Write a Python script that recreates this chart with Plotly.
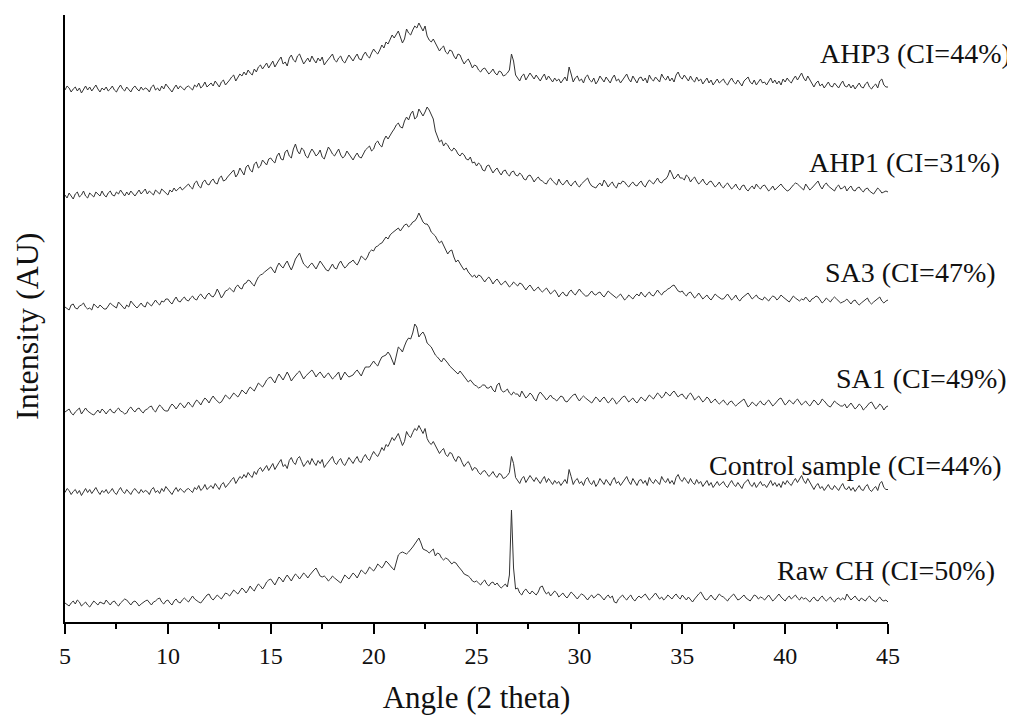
import plotly.graph_objects as go

# 2-theta grid: 5.0 .. 45.0 every 0.1 degree (401 points)
angle = [round(5 + 0.1 * i, 1) for i in range(401)]

# Intensities (AU); one row = 2 degrees (20 points)
ahp3 = [
    10, 14, 12, 8, 11, 13, 9, 12, 7, 11, 14, 10, 13, 9, 12, 15, 11, 8, 12, 10,
    13, 9, 11, 14, 10, 8, 12, 15, 11, 9, 13, 10, 8, 12, 14, 11, 9, 13, 10, 12,
    11, 8, 13, 15, 10, 12, 9, 14, 11, 16, 13, 10, 8, 12, 15, 11, 14, 12, 10, 13,
    14, 12, 10, 15, 13, 17, 12, 14, 18, 13, 15, 17, 14, 19, 16, 13, 18, 20, 15, 17,
    20, 23, 25, 19, 22, 26, 24, 28, 25, 30, 27, 25, 31, 28, 33, 35, 31, 34, 37, 32,
    36, 39, 33, 37, 40, 43, 36, 38, 34, 42, 45, 40, 38, 44, 46, 41, 36, 39, 42, 38,
    44, 40, 37, 42, 39, 43, 35, 38, 41, 44, 46, 40, 38, 42, 44, 39, 37, 41, 45, 42,
    39, 43, 46, 41, 40, 45, 48, 44, 42, 47, 51, 48, 46, 50, 55, 52, 58, 56, 61, 65,
    62, 66, 69, 63, 57, 61, 71, 67, 65, 70, 74, 72, 77, 73, 69, 74, 64, 60, 58, 61,
    57, 53, 49, 52, 54, 48, 46, 50, 49, 44, 41, 46, 45, 40, 36, 39, 41, 37, 32, 35,
    34, 30, 28, 31, 32, 29, 26, 28, 31, 27, 25, 29, 28, 24, 25, 27, 30, 46, 39, 25,
    22, 19, 24, 26, 20, 23, 27, 24, 21, 25, 22, 19, 23, 26, 20, 24, 21, 18, 22, 19,
    21, 17, 20, 23, 19, 33, 26, 18, 22, 24, 19, 21, 17, 23, 25, 20, 18, 22, 16, 19,
    24, 21, 18, 23, 20, 17, 22, 25, 19, 21, 17, 20, 23, 26, 21, 18, 24, 20, 17, 22,
    23, 19, 22, 17, 25, 21, 19, 23, 20, 18, 26, 22, 20, 24, 19, 22, 18, 25, 28, 23,
    21, 25, 22, 19, 24, 20, 18, 23, 19, 21, 16, 19, 22, 17, 20, 15, 18, 21, 17, 19,
    21, 17, 15, 19, 22, 18, 16, 20, 17, 14, 19, 21, 23, 18, 16, 20, 15, 18, 21, 17,
    18, 15, 19, 22, 17, 20, 16, 19, 15, 21, 18, 22, 19, 17, 21, 24, 20, 23, 27, 22,
    19, 24, 20, 16, 13, 17, 19, 14, 16, 12, 15, 18, 14, 13, 17, 15, 12, 16, 19, 14,
    13, 16, 12, 15, 11, 14, 17, 13, 12, 16, 18, 13, 11, 14, 16, 12, 19, 21, 15, 13,
    13,
]

ahp1 = [
    10, 7, 12, 9, 6, 11, 13, 8, 10, 14, 9, 7, 12, 10, 8, 13, 11, 9, 14, 10,
    8, 12, 14, 10, 9, 13, 11, 15, 12, 9, 13, 10, 14, 11, 9, 12, 15, 11, 13, 16,
    11, 14, 12, 10, 15, 13, 11, 16, 14, 12, 10, 15, 13, 17, 14, 16, 18, 15, 17, 19,
    21, 18, 16, 22, 24, 19, 17, 23, 25, 21, 20, 24, 26, 22, 21, 27, 29, 24, 25, 28,
    30, 33, 35, 28, 31, 37, 34, 30, 38, 40, 35, 33, 41, 43, 37, 39, 45, 42, 40, 46,
    47, 44, 42, 49, 52, 46, 45, 53, 55, 49, 47, 56, 61, 54, 51, 57, 55, 49, 47, 52,
    56, 53, 49, 51, 55, 48, 46, 52, 58, 55, 51, 49, 53, 56, 50, 47, 49, 54, 51, 48,
    45, 49, 52, 48, 47, 51, 55, 57, 59, 54, 56, 62, 64, 60, 58, 65, 69, 66, 70, 73,
    76, 80, 82, 78, 77, 84, 88, 85, 91, 94, 86, 88, 96, 92, 89, 93, 98, 95, 91, 86,
    74, 68, 63, 65, 59, 62, 60, 56, 54, 57, 55, 51, 49, 52, 50, 46, 45, 48, 42, 43,
    39, 42, 40, 35, 34, 39, 40, 36, 32, 35, 37, 33, 30, 34, 35, 31, 29, 33, 34, 30,
    29, 32, 30, 26, 25, 29, 30, 27, 23, 26, 28, 25, 24, 22, 21, 25, 27, 24, 22, 20,
    26, 22, 20, 23, 25, 21, 19, 22, 24, 20, 18, 21, 23, 25, 27, 22, 19, 18, 17, 20,
    22, 19, 25, 22, 18, 21, 23, 19, 17, 22, 21, 24, 23, 20, 18, 21, 23, 20, 19, 22,
    24, 20, 18, 22, 25, 23, 21, 24, 27, 23, 22, 25, 26, 29, 35, 31, 26, 28, 31, 27,
    27, 25, 30, 28, 23, 26, 28, 24, 21, 23, 26, 22, 20, 23, 24, 21, 18, 20, 23, 19,
    17, 20, 22, 19, 16, 18, 21, 17, 15, 19, 20, 16, 14, 17, 19, 16, 21, 18, 16, 19,
    20, 17, 14, 16, 19, 15, 17, 20, 21, 18, 16, 14, 15, 18, 20, 22, 21, 19, 17, 15,
    21, 18, 15, 17, 19, 22, 24, 19, 16, 20, 22, 19, 17, 15, 14, 18, 20, 16, 17, 19,
    14, 17, 19, 15, 14, 17, 18, 15, 13, 16, 17, 14, 12, 11, 14, 17, 15, 12, 13, 14,
    13,
]

sa3 = [
    10, 8, 7, 12, 13, 9, 8, 11, 12, 14, 10, 8, 9, 7, 13, 11, 9, 12, 10, 8,
    8, 11, 14, 12, 10, 9, 15, 13, 11, 8, 12, 10, 16, 13, 11, 9, 12, 14, 11, 10,
    15, 13, 11, 14, 17, 14, 12, 16, 15, 18, 18, 15, 13, 17, 20, 16, 15, 18, 20, 17,
    16, 19, 21, 18, 17, 21, 23, 20, 18, 22, 24, 21, 20, 23, 28, 24, 19, 22, 26, 27,
    29, 27, 25, 30, 32, 29, 28, 33, 34, 37, 36, 33, 31, 36, 40, 42, 43, 45, 47, 49,
    50, 47, 44, 50, 54, 51, 49, 53, 56, 51, 47, 52, 58, 61, 64, 58, 53, 51, 49, 52,
    54, 51, 48, 52, 56, 53, 50, 47, 46, 50, 53, 49, 48, 53, 56, 52, 49, 51, 54, 55,
    57, 54, 52, 56, 61, 59, 57, 60, 65, 67, 66, 70, 71, 73, 74, 77, 80, 78, 82, 84,
    86, 88, 89, 86, 89, 92, 93, 90, 92, 95, 96, 99, 104, 100, 95, 93, 93, 90, 85, 83,
    81, 77, 74, 76, 72, 67, 63, 66, 67, 60, 55, 57, 53, 50, 47, 49, 45, 43, 40, 42,
    39, 42, 41, 38, 35, 38, 40, 37, 33, 36, 38, 35, 32, 34, 36, 33, 30, 32, 35, 33,
    31, 34, 33, 30, 27, 30, 32, 29, 26, 28, 30, 27, 25, 27, 29, 26, 23, 25, 27, 24,
    20, 23, 25, 22, 21, 25, 27, 24, 22, 25, 28, 25, 23, 21, 21, 24, 26, 23, 22, 24,
    25, 22, 20, 23, 26, 24, 22, 20, 19, 21, 23, 20, 17, 19, 22, 20, 18, 21, 23, 21,
    25, 22, 20, 23, 25, 22, 21, 24, 27, 24, 22, 25, 26, 28, 29, 31, 32, 29, 26, 25,
    26, 23, 21, 24, 25, 22, 19, 21, 24, 21, 18, 20, 22, 19, 17, 20, 23, 21, 19, 18,
    18, 21, 23, 20, 17, 19, 22, 18, 16, 19, 21, 23, 24, 21, 18, 20, 22, 19, 18, 17,
    20, 18, 16, 19, 21, 20, 17, 19, 22, 20, 18, 16, 15, 18, 21, 19, 17, 16, 18, 17,
    20, 17, 15, 18, 19, 21, 20, 17, 14, 16, 19, 17, 15, 18, 20, 18, 16, 14, 15, 16,
    18, 15, 13, 16, 17, 14, 12, 14, 16, 18, 19, 15, 13, 15, 17, 19, 20, 16, 14, 16,
    17,
]

sa1 = [
    10, 12, 13, 9, 7, 10, 12, 14, 8, 11, 14, 11, 9, 8, 7, 10, 12, 9, 13, 11,
    8, 11, 13, 10, 9, 12, 14, 11, 10, 8, 9, 13, 15, 12, 10, 13, 14, 11, 9, 12,
    13, 15, 16, 12, 10, 14, 17, 15, 12, 11, 11, 15, 18, 16, 13, 16, 19, 17, 14, 17,
    20, 17, 15, 19, 22, 20, 17, 21, 24, 22, 19, 23, 26, 23, 21, 19, 20, 24, 27, 25,
    23, 26, 29, 27, 25, 28, 32, 30, 28, 32, 35, 33, 31, 35, 39, 37, 35, 38, 42, 44,
    45, 42, 39, 44, 48, 45, 42, 46, 50, 46, 41, 44, 47, 49, 51, 47, 43, 46, 48, 50,
    52, 49, 45, 48, 50, 47, 44, 47, 49, 46, 43, 45, 48, 50, 42, 46, 50, 47, 45, 46,
    47, 50, 52, 49, 46, 51, 55, 55, 55, 58, 61, 58, 56, 61, 65, 66, 67, 70, 67, 62,
    57, 66, 75, 73, 70, 76, 81, 84, 83, 89, 98, 95, 85, 88, 90, 86, 79, 77, 75, 71,
    67, 65, 63, 60, 64, 62, 59, 56, 54, 52, 50, 48, 51, 48, 45, 42, 40, 42, 39, 37,
    36, 34, 35, 37, 37, 34, 34, 36, 32, 30, 37, 39, 32, 30, 31, 33, 29, 27, 30, 28,
    28, 25, 31, 28, 24, 26, 29, 27, 23, 21, 27, 30, 28, 25, 22, 25, 27, 24, 23, 21,
    23, 26, 25, 21, 20, 23, 25, 27, 28, 24, 21, 24, 26, 24, 22, 20, 19, 22, 25, 23,
    20, 23, 25, 22, 19, 21, 24, 22, 18, 20, 23, 25, 26, 23, 20, 22, 24, 21, 19, 22,
    25, 23, 21, 24, 27, 25, 23, 26, 29, 27, 24, 26, 30, 28, 26, 29, 31, 28, 25, 27,
    28, 25, 23, 27, 29, 26, 22, 24, 26, 23, 20, 22, 25, 23, 19, 21, 23, 20, 18, 20,
    22, 19, 17, 20, 21, 18, 16, 18, 20, 22, 23, 19, 15, 17, 20, 18, 16, 19, 21, 18,
    17, 20, 22, 19, 16, 18, 21, 23, 24, 20, 17, 19, 22, 20, 18, 21, 23, 20, 17, 19,
    21, 18, 16, 19, 22, 20, 17, 19, 23, 21, 18, 16, 15, 18, 21, 19, 17, 16, 16, 18,
    14, 17, 19, 16, 13, 15, 18, 16, 12, 14, 17, 19, 20, 16, 13, 15, 18, 16, 12, 15,
    16,
]

# Control sample pattern is identical in shape to AHP3 in the picture
control = list(ahp3)

raw_ch = [
    10, 8, 7, 10, 12, 9, 13, 11, 7, 9, 11, 8, 6, 9, 12, 10, 8, 11, 10, 9,
    13, 10, 8, 11, 12, 9, 7, 10, 12, 14, 13, 10, 8, 11, 12, 10, 7, 9, 11, 12,
    13, 10, 8, 11, 12, 14, 15, 11, 9, 12, 13, 10, 8, 12, 14, 11, 10, 13, 15, 13,
    11, 14, 17, 14, 12, 11, 10, 13, 16, 18, 19, 15, 13, 16, 18, 16, 14, 17, 20, 19,
    17, 20, 23, 21, 19, 22, 25, 23, 20, 23, 27, 24, 22, 26, 29, 27, 24, 27, 31, 33,
    34, 31, 28, 32, 36, 34, 31, 35, 38, 35, 32, 36, 39, 37, 34, 37, 40, 38, 35, 38,
    41, 43, 45, 41, 37, 36, 37, 35, 32, 34, 37, 35, 33, 31, 30, 34, 38, 36, 34, 37,
    40, 38, 35, 39, 43, 41, 39, 42, 46, 44, 42, 45, 49, 47, 45, 48, 52, 50, 47, 45,
    43, 51, 58, 60, 61, 60, 59, 61, 63, 66, 69, 72, 75, 70, 64, 63, 62, 60, 62, 64,
    57, 60, 59, 55, 53, 55, 54, 51, 49, 51, 50, 47, 45, 42, 39, 38, 37, 35, 32, 31,
    32, 30, 28, 31, 33, 29, 27, 30, 31, 28, 30, 27, 25, 27, 29, 26, 38, 103, 45, 24,
    25, 20, 18, 22, 24, 21, 19, 22, 20, 18, 21, 26, 27, 22, 19, 21, 17, 19, 22, 20,
    16, 18, 20, 17, 15, 18, 21, 19, 16, 14, 17, 19, 18, 15, 13, 16, 18, 15, 17, 19,
    18, 15, 13, 16, 18, 15, 17, 11, 10, 14, 16, 18, 15, 13, 16, 18, 14, 12, 15, 17,
    15, 17, 19, 16, 13, 15, 18, 20, 17, 14, 16, 13, 15, 18, 16, 14, 17, 19, 16, 14,
    18, 15, 13, 16, 14, 11, 14, 17, 19, 21, 18, 14, 13, 16, 18, 15, 13, 16, 19, 17,
    16, 14, 12, 15, 17, 19, 16, 13, 14, 16, 18, 15, 13, 12, 15, 18, 17, 14, 16, 15,
    13, 16, 18, 15, 12, 14, 17, 19, 16, 14, 12, 15, 17, 14, 16, 18, 15, 13, 16, 14,
    15, 13, 11, 14, 16, 13, 12, 15, 17, 14, 12, 14, 16, 13, 11, 14, 15, 13, 15, 13,
    19, 16, 13, 15, 17, 14, 12, 15, 13, 12, 15, 17, 14, 12, 11, 14, 16, 13, 12, 13,
    11,
]

series_names = ["AHP3 (CI=44%)", "AHP1 (CI=31%)", "SA3 (CI=47%)",
                "SA1 (CI=49%)", "Control sample (CI=44%)", "Raw CH (CI=50%)"]
series_values = [ahp3, ahp1, sa3, sa1, control, raw_ch]
stack_offsets = [522, 417, 305, 200, 119.5, 9]  # vertical stacking shift (AU)
for vals in series_values:
    assert len(vals) == len(angle), len(vals)

x_ticks = [5, 10, 15, 20, 25, 30, 35, 40, 45]

# label placement (screen-pixel x of right edge, data y of centre)
label_right = [1012, 1001, 997, 1008, 1003, 996]
label_y = [569, 460, 350, 244, 157, 52]

fig = go.Figure()
for name, vals, off in zip(series_names, series_values, stack_offsets):
    fig.add_trace(go.Scatter(
        x=angle, y=[v + off for v in vals], mode="lines", name=name,
        line=dict(color="#333333", width=1), showlegend=False,
        hoverinfo="skip"))

# page body has an 8px margin: compensate so the plot sits where the reference has it
PAGE = 8
W, H = 1015 - PAGE, 715 - PAGE
L, R, T, B = 65 - PAGE, 127, 15 - PAGE, 93
pw, ph = 823, 607
for name, rx, yy in zip(series_names, label_right, label_y):
    fig.add_annotation(
        text=name, xref="paper", yref="y",
        x=(rx - 65) / pw, y=yy, xanchor="right", yanchor="middle",
        showarrow=False, borderpad=0,
        font=dict(family="Liberation Serif", size=28, color="#111111"))

# y-axis title (placed as rotated text, slightly below plot centre as in the reference)
fig.add_annotation(
    text="Intensity (AU)", xref="paper", yref="paper",
    x=(27 - 65) / pw, y=(622 - 326) / ph, xanchor="center", yanchor="middle",
    textangle=-90, showarrow=False,
    font=dict(family="Liberation Serif", size=32, color="#111111"))

fig.update_layout(
    width=W, height=H,
    margin=dict(l=L, r=R, t=T, b=B, autoexpand=False),
    plot_bgcolor="white", paper_bgcolor="white",
    font=dict(family="Liberation Serif", color="black"),
    xaxis=dict(
        range=[5, 45], tickvals=x_ticks, ticktext=[str(t) for t in x_ticks],
        automargin=False,
        showline=True, linecolor="black", linewidth=2,
        ticks="outside", ticklen=10, tickwidth=2, tickcolor="black",
        tickfont=dict(family="Liberation Serif", size=24, color="#111111"),
        ticklabelstandoff=1,
        minor=dict(tickvals=[7.5, 12.5, 17.5, 22.5, 27.5, 32.5, 37.5, 42.5],
                   ticks="outside", ticklen=5, tickwidth=2, tickcolor="black"),
        showgrid=False, zeroline=False,
        title=dict(text="Angle (2 theta)", standoff=26,
                   font=dict(family="Liberation Serif", size=31, color="#111111")),
    ),
    yaxis=dict(
        range=[0, 607], automargin=False,
        showline=True, linecolor="black", linewidth=2,
        ticks="", showticklabels=False, showgrid=False, zeroline=False,
    ),
)

fig.write_html("out.html")
